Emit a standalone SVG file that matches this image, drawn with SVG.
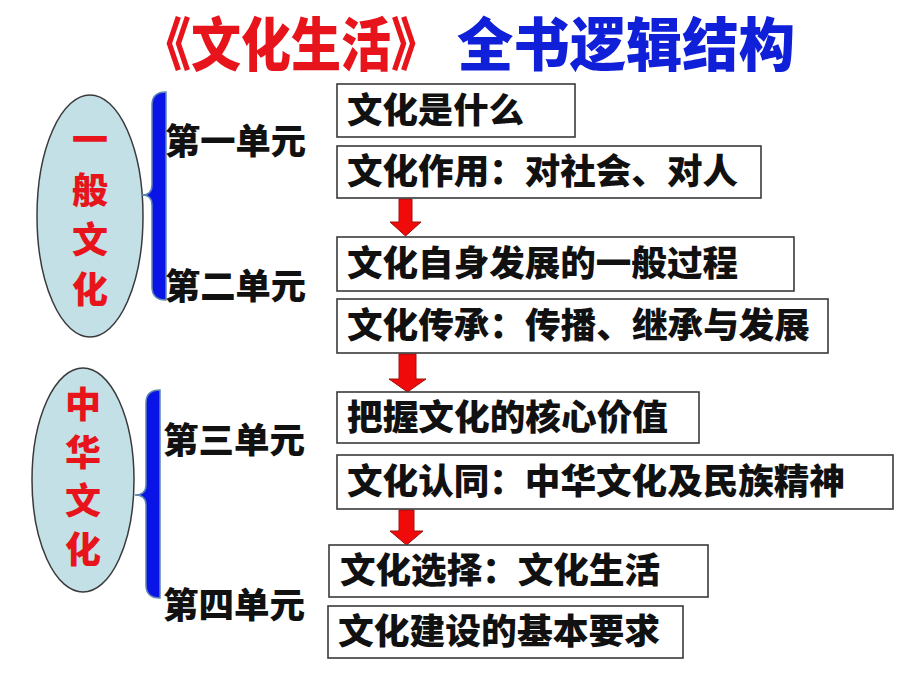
<svg xmlns="http://www.w3.org/2000/svg" width="920" height="690" viewBox="0 0 920 690">
<style>
text{font-family:"Noto Sans CJK SC","Noto Sans CJK JP",sans-serif;font-weight:900}
.t{font-size:35px;fill:#111}
.u{font-size:35px;fill:#111}
.v{font-size:36px;fill:#e8141b;text-anchor:middle}
.box{fill:#fff;stroke:#3a3a3a;stroke-width:1.6}
.ell{fill:#c3e0e6;stroke:#3a3a3a;stroke-width:1.5}
.brace{fill:#0a14e6;stroke:#5d86b0;stroke-width:1.5}
.arr{fill:#f00a0a;stroke:#a01010;stroke-width:1}
</style>
<rect width="920" height="690" fill="#fff"/>
<g id="title">
<text x="141" y="66" font-size="58" fill="#e8141b" textLength="300" lengthAdjust="spacingAndGlyphs">《文化生活》</text>
<text x="457" y="66" font-size="58" fill="#1020d8" textLength="338" lengthAdjust="spacingAndGlyphs">全书逻辑结构</text>
</g>
<g id="general">
<ellipse class="ell" cx="90" cy="216" rx="53" ry="121"/>
<text class="v" x="90" y="153">一</text>
<text class="v" x="90" y="204">般</text>
<text class="v" x="90" y="253">文</text>
<text class="v" x="90" y="303">化</text>
</g>
<g id="chinese">
<ellipse class="ell" cx="83" cy="480" rx="51" ry="112"/>
<text class="v" x="83" y="418">中</text>
<text class="v" x="83" y="466">华</text>
<text class="v" x="83" y="514">文</text>
<text class="v" x="83" y="563">化</text>
</g>
<g id="connectors">
<path class="brace" d="M166,92 Q152,92 152,105 L152,185 Q152,195 142,195 Q152,195 152,205 L152,287 Q152,300 166,300 Z"/>
<path class="brace" d="M160,390 Q146,390 146,403 L146,485 Q146,495 135,495 Q146,495 146,505 L146,585 Q146,598 160,598 Z"/>
<path class="arr" d="M399,199 H412 V222 H421 L405.5,236 L390,222 H399 Z"/>
<path class="arr" d="M399,354 H416 V379 H426 L407.5,392 L389,379 H399 Z"/>
<path class="arr" d="M399,510 H414 V531 H423 L406.5,545 L390,531 H399 Z"/>
</g>
<g id="unit1"><text class="u" x="165" y="154" textLength="141" lengthAdjust="spacingAndGlyphs">第一单元</text></g>
<g id="unit2"><text class="u" x="165" y="299" textLength="141" lengthAdjust="spacingAndGlyphs">第二单元</text></g>
<g id="unit3"><text class="u" x="163" y="453" textLength="142" lengthAdjust="spacingAndGlyphs">第三单元</text></g>
<g id="unit4"><text class="u" x="163" y="618" textLength="142" lengthAdjust="spacingAndGlyphs">第四单元</text></g>
<g id="box1"><rect class="box" x="337" y="84" width="238" height="53"/><text class="t" x="347" y="123" textLength="177" lengthAdjust="spacingAndGlyphs">文化是什么</text></g>
<g id="box2"><rect class="box" x="337" y="146" width="424" height="52"/><text class="t" x="347" y="184" textLength="391" lengthAdjust="spacingAndGlyphs">文化作用：对社会、对人</text></g>
<g id="box3"><rect class="box" x="337" y="237" width="457" height="54"/><text class="t" x="347" y="276" textLength="391" lengthAdjust="spacingAndGlyphs">文化自身发展的一般过程</text></g>
<g id="box4"><rect class="box" x="337" y="299" width="491" height="54"/><text class="t" x="347" y="338" textLength="463" lengthAdjust="spacingAndGlyphs">文化传承：传播、继承与发展</text></g>
<g id="box5"><rect class="box" x="337" y="392" width="362" height="51"/><text class="t" x="347" y="430" textLength="321" lengthAdjust="spacingAndGlyphs">把握文化的核心价值</text></g>
<g id="box6"><rect class="box" x="337" y="455" width="556" height="54"/><text class="t" x="347" y="494" textLength="498" lengthAdjust="spacingAndGlyphs">文化认同：中华文化及民族精神</text></g>
<g id="box7"><rect class="box" x="329" y="545" width="379" height="52"/><text class="t" x="340" y="583" textLength="320" lengthAdjust="spacingAndGlyphs">文化选择：文化生活</text></g>
<g id="box8"><rect class="box" x="328" y="606" width="355" height="52"/><text class="t" x="338" y="644" textLength="322" lengthAdjust="spacingAndGlyphs">文化建设的基本要求</text></g>
</svg>
